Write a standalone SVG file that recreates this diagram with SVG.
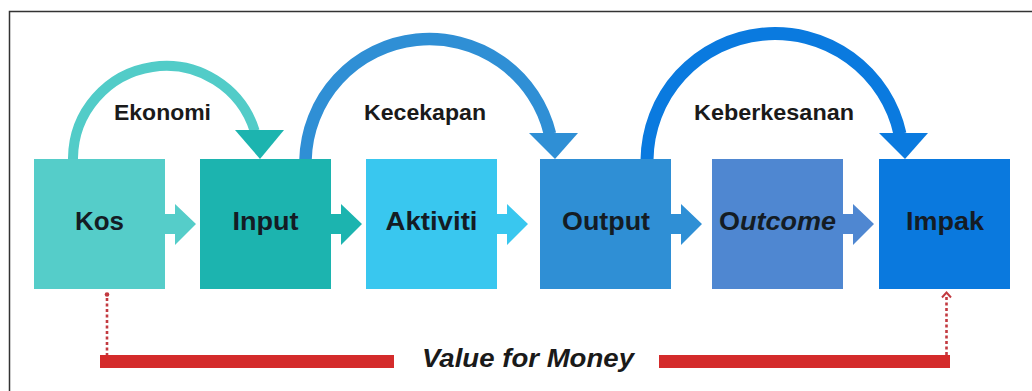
<svg xmlns="http://www.w3.org/2000/svg" width="1032" height="391" viewBox="0 0 1032 391">
<style>
.box-label{font-family:"Liberation Sans",Arial,sans-serif;font-weight:bold;font-size:25px;fill:#141c24;text-anchor:middle}
.arc-label{font-family:"Liberation Sans",Arial,sans-serif;font-weight:bold;font-size:22px;fill:#1a1a1a;text-anchor:middle}
.vfm{font-family:"Liberation Sans",Arial,sans-serif;font-weight:bold;font-style:italic;font-size:25px;fill:#1a1a1a;text-anchor:middle}
.arc{fill:none}
.dots{stroke:#c23a40;stroke-width:2.6;stroke-dasharray:3 2.5;fill:none}
</style>
<rect x="0" y="0" width="1032" height="391" fill="#ffffff"/>
<path d="M9.5 391 V11.5 H1032" fill="none" stroke="#333" stroke-width="1.5"/>

<g id="connectors">
  <!-- block arrows between boxes -->
  <polygon points="165,214 175,214 175,204 196,224 175,245 175,234 165,234" fill="#55cdc9"/>
  <polygon points="331,214 341,214 341,204 362,224 341,245 341,234 331,234" fill="#1cb4af"/>
  <polygon points="497,214 507,214 507,204 528,224 507,245 507,234 497,234" fill="#39c7ef"/>
  <polygon points="671,214 681,214 681,204 702,224 681,245 681,234 671,234" fill="#2f8fd5"/>
  <polygon points="843,214 853,214 853,204 874,224 853,245 853,234 843,234" fill="#4f87d1"/>
  <!-- Ekonomi arc -->
  <path class="arc" d="M73 160 V158 A93 93 0 0 1 254.7 131" stroke="#52ccc8" stroke-width="10"/>
  <polygon points="235,130 284,130 260,159" fill="#1cb4af"/>
  <!-- Kecekapan arc -->
  <path class="arc" d="M305.5 160 A124 124 0 0 1 550 134" stroke="#2f8fd5" stroke-width="12.5"/>
  <polygon points="529,133 578,133 555,159" fill="#2f8fd5"/>
  <!-- Keberkesanan arc -->
  <path class="arc" d="M647 160 A128 128 0 0 1 900 134" stroke="#0a7adf" stroke-width="13"/>
  <polygon points="879,133 928,133 905,159" fill="#0a7adf"/>
  <!-- value for money -->
  <circle cx="107" cy="294.5" r="2.3" fill="#c23a40"/>
  <path class="dots" d="M107 298 V355"/>
  <path class="dots" d="M946.5 355 V296"/>
  <path d="M942 297.5 L946.5 292.5 L951 297.5" fill="none" stroke="#c23a40" stroke-width="2"/>
  <rect x="100" y="355" width="294" height="13" fill="#d42b2b"/>
  <rect x="659" y="355" width="291" height="13" fill="#d42b2b"/>
</g>

<g id="label-ekonomi"><text class="arc-label" x="162.5" y="120" textLength="97" lengthAdjust="spacingAndGlyphs">Ekonomi</text></g>
<g id="label-kecekapan"><text class="arc-label" x="425" y="120" textLength="122" lengthAdjust="spacingAndGlyphs">Kecekapan</text></g>
<g id="label-keberkesanan"><text class="arc-label" x="774" y="120" textLength="160" lengthAdjust="spacingAndGlyphs">Keberkesanan</text></g>

<g id="node-kos">
  <rect x="34" y="159" width="131" height="130" fill="#55cdc9"/>
  <text class="box-label" x="99.5" y="230" textLength="49" lengthAdjust="spacingAndGlyphs">Kos</text>
</g>
<g id="node-input">
  <rect x="200" y="159" width="131" height="130" fill="#1cb4af"/>
  <text class="box-label" x="265.5" y="230" textLength="66" lengthAdjust="spacingAndGlyphs">Input</text>
</g>
<g id="node-aktiviti">
  <rect x="366" y="159" width="131" height="130" fill="#39c7ef"/>
  <text class="box-label" x="431.5" y="230" textLength="92" lengthAdjust="spacingAndGlyphs">Aktiviti</text>
</g>
<g id="node-output">
  <rect x="540" y="159" width="131" height="130" fill="#2f8fd5"/>
  <text class="box-label" x="606" y="230" textLength="88" lengthAdjust="spacingAndGlyphs">Output</text>
</g>
<g id="node-outcome">
  <rect x="712" y="159" width="131" height="130" fill="#4f87d1"/>
  <text class="box-label" x="777.5" y="230" textLength="117" lengthAdjust="spacingAndGlyphs">O<tspan font-style="italic">utcome</tspan></text>
</g>
<g id="node-impak">
  <rect x="879" y="159" width="131" height="130" fill="#0a79de"/>
  <text class="box-label" x="945" y="230" textLength="78" lengthAdjust="spacingAndGlyphs">Impak</text>
</g>

<g id="value-for-money">
  <text class="vfm" x="528" y="367" textLength="212" lengthAdjust="spacingAndGlyphs">Value for Money</text>
</g>
</svg>
